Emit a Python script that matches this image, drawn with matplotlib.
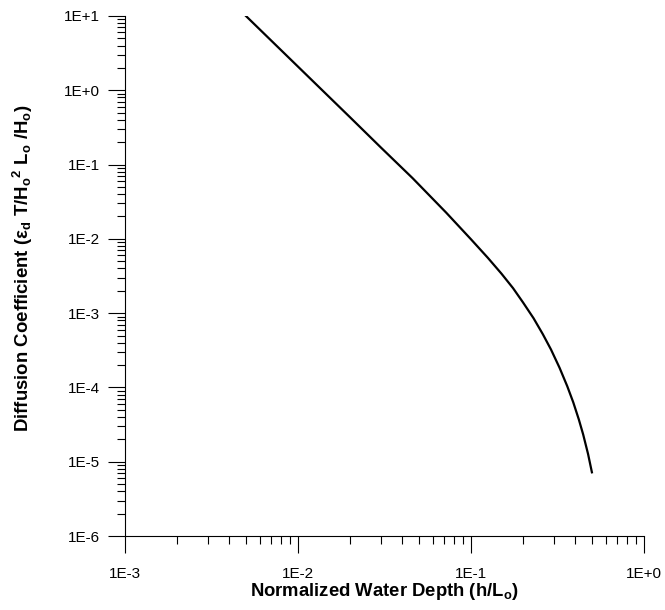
import numpy as np
import matplotlib
matplotlib.use("Agg")
import matplotlib.pyplot as plt
from matplotlib.ticker import LogLocator, FuncFormatter, NullFormatter

plt.rcParams['font.family'] = ['Liberation Sans', 'DejaVu Sans']
plt.rcParams['mathtext.default'] = 'regular'

# normalized water depth h/Lo and diffusion coefficient
depth = [0.005, 0.01, 0.02, 0.03, 0.046, 0.072, 0.1, 0.125, 0.15, 0.175,
         0.2, 0.23, 0.26, 0.29, 0.325, 0.36, 0.39, 0.42, 0.445, 0.475, 0.5]
coef = [10.0, 2.08, 0.4325, 0.1714, 0.0655, 0.02244, 0.00986, 0.00557,
        0.0034, 0.00217, 0.00139, 8.53e-4, 5.22e-4, 3.24e-4, 1.84e-4,
        1.04e-4, 6.31e-5, 3.71e-5, 2.33e-5, 1.27e-5, 7.2e-6]

x_lim = (1e-3, 1.0)
y_lim = (1e-6, 10.0)


def sci_label(v, pos):
    return "1E{:+d}".format(int(round(np.log10(v))))


fig = plt.figure(figsize=(6.65, 6.1), dpi=100)
ax = fig.add_axes([0.188, 0.1213, 0.7804, 0.8525])

ax.plot(depth, coef, color='black', linewidth=1.6)

ax.set_xscale('log')
ax.set_yscale('log')
ax.set_xlim(*x_lim)
ax.set_ylim(*y_lim)

for axis in (ax.xaxis, ax.yaxis):
    axis.set_major_locator(LogLocator(base=10, numticks=20))
    axis.set_minor_locator(LogLocator(base=10, subs=np.arange(2, 10), numticks=20))
    axis.set_major_formatter(FuncFormatter(sci_label))
    axis.set_minor_formatter(NullFormatter())

for side in ('top', 'right'):
    ax.spines[side].set_visible(False)
for side in ('left', 'bottom'):
    ax.spines[side].set_linewidth(0.8)

ax.tick_params(which='major', direction='out', length=12, width=0.8, labelsize=11)
ax.tick_params(axis='x', which='major', pad=10)
ax.tick_params(axis='y', which='major', pad=6)
ax.tick_params(which='minor', direction='out', length=6, width=0.8)

ax.set_xlabel('Normalized Water Depth (h/L$_o$)', fontsize=13.3, fontweight='bold', labelpad=0)
ax.set_ylabel('Diffusion Coefficient (ε$_d$ T/H$_o$$^2$ L$_o$ /H$_o$)', fontsize=13.4,
              fontweight='bold')
ax.yaxis.set_label_coords(-0.174, 0.515)

fig.savefig('out.png', dpi=100)
